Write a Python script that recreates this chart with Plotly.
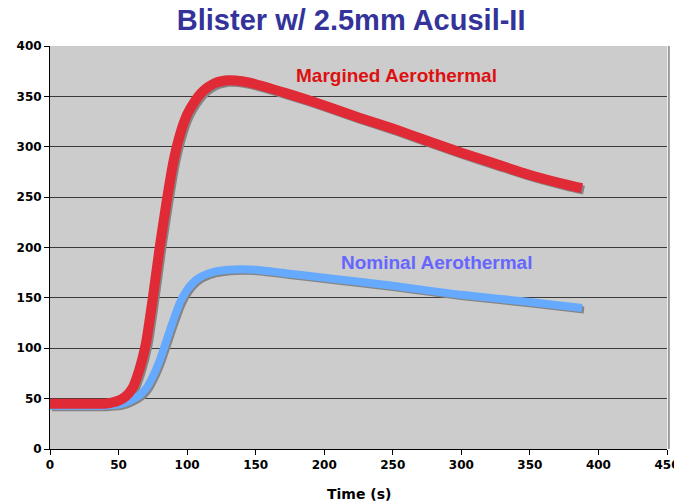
import plotly.graph_objects as go

# Margined Aerothermal (red)
marg_x = [0, 20, 40, 45, 50, 55, 60, 65, 70, 75, 80, 85, 90, 95, 100, 105, 110, 115, 120, 125, 130, 140, 150, 175, 200, 225, 250, 275, 300, 325, 350, 375, 388]
marg_y = [45, 45, 45, 46, 48, 52, 60, 78, 105, 150, 200, 245, 285, 313, 332, 344, 353, 359, 363, 365, 366, 365, 362, 352, 341, 329, 318, 306, 294, 283, 272, 263, 259]

# Nominal Aerothermal (blue)
nom_x = [0, 40, 50, 55, 60, 65, 70, 75, 80, 85, 90, 95, 100, 105, 110, 120, 130, 140, 150, 175, 200, 250, 300, 350, 388]
nom_y = [43, 43, 44, 46, 49, 53, 60, 72, 88, 108, 128, 146, 158, 166, 171, 176, 178, 178.5, 178, 174, 170, 162, 153, 146, 140]

x_ticks = [0, 50, 100, 150, 200, 250, 300, 350, 400, 450]
y_ticks = [0, 50, 100, 150, 200, 250, 300, 350, 400]

title = "Blister w/ 2.5mm Acusil-II"
x_title = "Time (s)"
lab_marg = "Margined Aerothermal"
lab_nom = "Nominal Aerothermal"

fig = go.Figure()

# shadows on shifted primary axes
shadow = "#858585"
fig.add_trace(go.Scatter(x=marg_x, y=marg_y, mode="lines", xaxis="x", yaxis="y",
                         line=dict(color=shadow, width=9, shape="spline", smoothing=0.6),
                         hoverinfo="skip", showlegend=False))
fig.add_trace(go.Scatter(x=nom_x, y=nom_y, mode="lines", xaxis="x", yaxis="y",
                         line=dict(color=shadow, width=7, shape="spline", smoothing=0.6),
                         hoverinfo="skip", showlegend=False))

# main series
fig.add_trace(go.Scatter(x=nom_x, y=nom_y, mode="lines", xaxis="x2", yaxis="y2",
                         line=dict(color="#66aaff", width=8, shape="spline", smoothing=0.6),
                         name=lab_nom, showlegend=False))
fig.add_trace(go.Scatter(x=marg_x, y=marg_y, mode="lines", xaxis="x2", yaxis="y2",
                         line=dict(color="#e02a35", width=10, shape="spline", smoothing=0.6),
                         name=lab_marg, showlegend=False))

tickfont = dict(family="DejaVu Sans", size=12, color="#000000", weight="bold")
dx = 2 / 1.371
dy = 2 / 1.0075

fig.update_layout(
    width=674, height=503,
    margin=dict(l=50, r=7, t=46, b=54, autoexpand=False),
    paper_bgcolor="#ffffff",
    plot_bgcolor="#cccccc",
    title=dict(text=title, x=0.521, xanchor="center", y=0.96, yanchor="middle",
               font=dict(family="Liberation Sans, Arial", size=29,
                         color="#333399", weight="bold")),
    xaxis=dict(range=[0 - dx, 450 - dx], visible=False, showgrid=False, zeroline=False, automargin=False),
    yaxis=dict(range=[0 + dy, 400 + dy], visible=False, showgrid=False, zeroline=False, automargin=False),
    xaxis2=dict(range=[0, 450], overlaying="x", tickvals=x_ticks, ticktext=[str(v) for v in x_ticks],
                showgrid=False, zeroline=False, showline=True, linecolor="#000000", linewidth=1,
                ticks="outside", ticklen=5, tickcolor="#000000", tickfont=tickfont,
                ticklabeloverflow="allow", automargin=False, mirror=False),
    yaxis2=dict(range=[0, 400], overlaying="y", tickvals=y_ticks, ticktext=[str(v) for v in y_ticks],
                showgrid=True, gridcolor="#3a3a3a", gridwidth=1, zeroline=False,
                showline=True, linecolor="#000000", linewidth=1, automargin=False,
                ticks="outside", ticklen=5, tickcolor="#000000", tickfont=tickfont),
    annotations=[
        dict(text=lab_marg, x=253, y=371, xref="x2", yref="y2", showarrow=False,
             font=dict(family="Liberation Sans, Arial", size=19, color="#dd1111", weight="bold")),
        dict(text=lab_nom, x=282, y=185, xref="x2", yref="y2", showarrow=False,
             font=dict(family="Liberation Sans, Arial", size=19, color="#6666ff", weight="bold")),
        dict(text=x_title, x=0.5, y=-0.112, xref="paper", yref="paper", showarrow=False,
             xanchor="center", yanchor="middle",
             font=dict(family="DejaVu Sans", size=14, color="#000000", weight="bold")),
    ],
    shapes=[
        dict(type="line", xref="paper", yref="paper", x0=1.003, x1=1.003, y0=0, y1=1,
             line=dict(color="#999999", width=2)),
    ],
)

fig.write_html("out.html")
